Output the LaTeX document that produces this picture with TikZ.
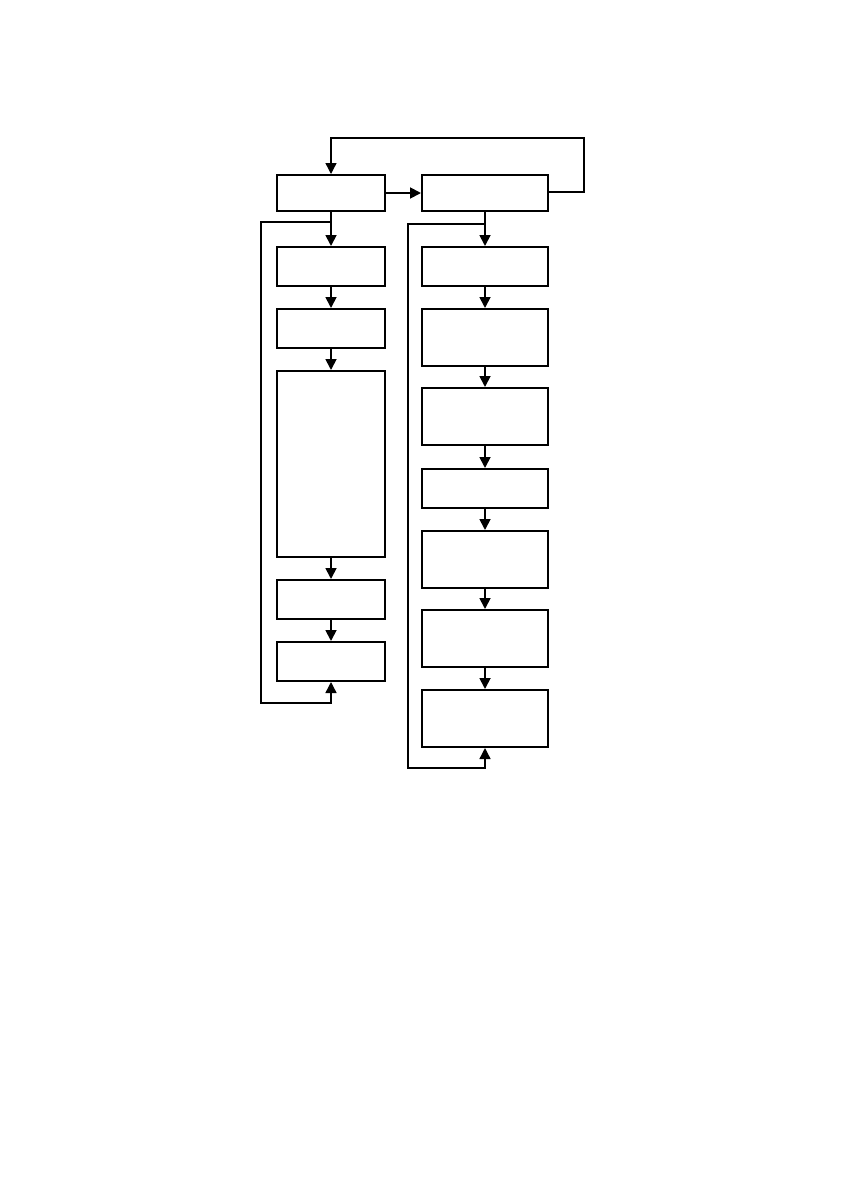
\documentclass[tikz,border=0pt]{standalone}
\usetikzlibrary{arrows.meta}
\begin{document}
\begin{tikzpicture}[x=1pt,y=-1pt,
  box/.style={draw,line width=2pt,inner sep=0pt},
  flow/.style={line width=1.8pt,-{Triangle[length=11pt,width=11pt]}},
  loopline/.style={line width=1.4pt,-{Triangle[length=11pt,width=11pt]}}]
\useasboundingbox (0,0) rectangle (842,1191);
\newcommand{\bx}[5]{\node[box,minimum width=#4pt,minimum height=#5pt] (#1) at (#2,#3) {};}
% left column (x 277--385)
\bx{L0}{331}{193}{108}{36}
\bx{L1}{331}{266.5}{108}{39}
\bx{L2}{331}{328.5}{108}{39}
\bx{L3}{331}{464}{108}{186}
\bx{L4}{331}{599.5}{108}{39}
\bx{L5}{331}{661.5}{108}{39}
% right column (x 422--548)
\bx{R0}{485}{193}{126}{36}
\bx{R1}{485}{266.5}{126}{39}
\bx{R2}{485}{337.5}{126}{57}
\bx{R3}{485}{416.5}{126}{57}
\bx{R4}{485}{488.5}{126}{39}
\bx{R5}{485}{559.5}{126}{57}
\bx{R6}{485}{638.5}{126}{57}
\bx{R7}{485}{718.5}{126}{57}
% coordinates
\coordinate (lj) at (331,222);
\coordinate (la) at (261,222);
\coordinate (lb) at (261,703);
\coordinate (lc) at (331,703);
\coordinate (rj) at (485,224);
\coordinate (ra) at (408,224);
\coordinate (rb) at (408,768);
\coordinate (rc) at (485,768);
\coordinate (ta) at (584,192);
\coordinate (tb) at (584,138);
\coordinate (tc) at (331,138);
% main flow
\draw[flow] (L0.east) -- (R0.west |- L0.east);
\foreach \a/\b in {L0/L1,L1/L2,L2/L3,L3/L4,L4/L5,R0/R1,R1/R2,R2/R3,R3/R4,R4/R5,R5/R6,R6/R7}
  \draw[flow] (\a.south) -- (\b.north);
% loops
\draw[loopline] (lj) -- (la) -- (lb) -- (lc) -- (L5.south);
\draw[loopline] (rj) -- (ra) -- (rb) -- (rc) -- (R7.south);
\draw[loopline] (R0.east |- ta) -- (ta) -- (tb) -- (tc) -- (L0.north);
\end{tikzpicture}
\end{document}
